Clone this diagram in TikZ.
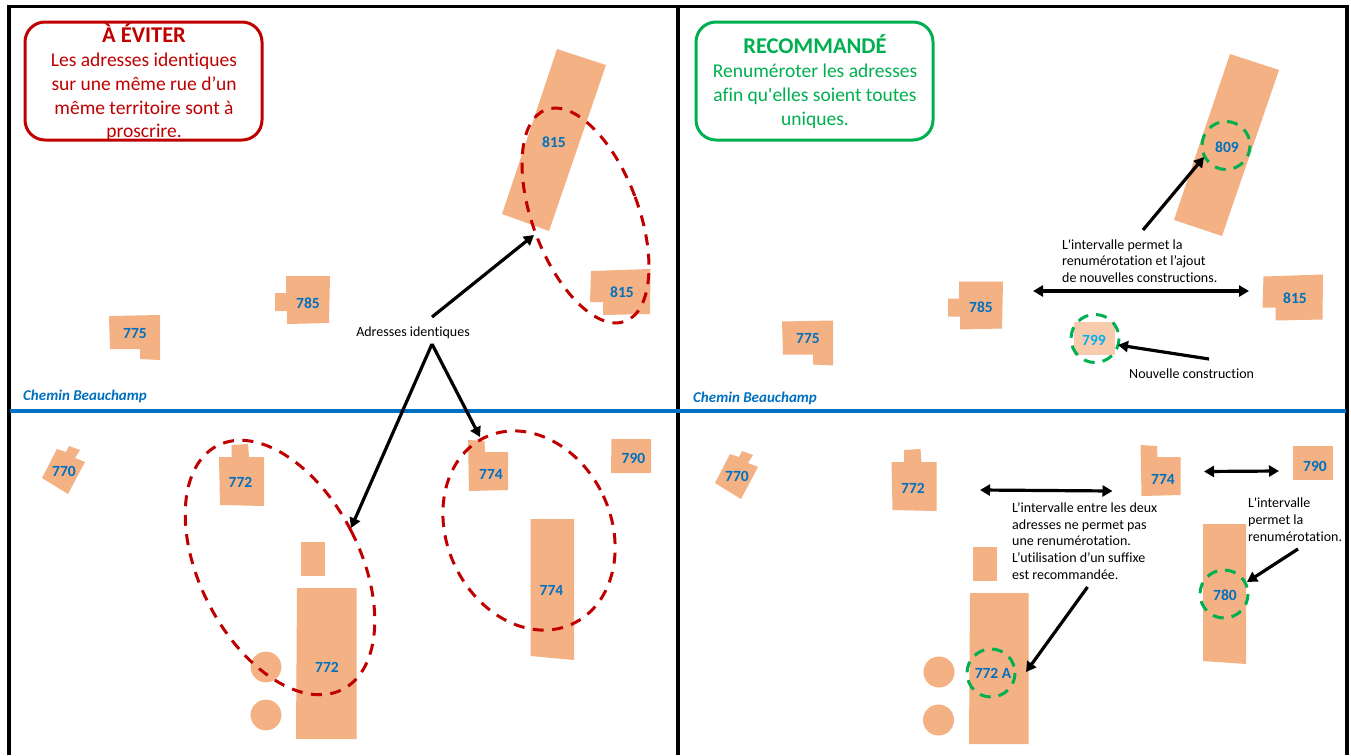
\documentclass[tikz,border=0pt]{standalone}
\usepackage{fontspec}
\newfontfamily\carl{Carlito}[Ligatures=NoCommon]
\usetikzlibrary{arrows.meta}
\definecolor{cred}{HTML}{C00000}
\definecolor{cgreen}{HTML}{00B050}
\definecolor{cblue}{HTML}{0070C0}
\definecolor{cbld}{HTML}{F4B183}
\definecolor{cnew}{HTML}{F8CBAD}
\definecolor{csky}{HTML}{00B0F0}
\tikzset{
  bld/.style={fill=cbld,draw=none},
  num/.style={font=\carl\fontsize{15.5}{16}\selectfont\bfseries,text=cblue,inner sep=0pt},
  road/.style={font=\carl\fontsize{15}{16}\selectfont\bfseries\itshape,text=cblue,inner sep=0pt,anchor=west},
  frameline/.style={draw=black,line width=3.5pt},
  redring/.style={draw=cred,line width=3pt,dash pattern=on 11pt off 8.5pt},
  greenring/.style={draw=cgreen,line width=3pt,dash pattern=on 11pt off 8pt},
  arr/.style={draw=black,line width=3.2pt,-{Triangle[length=10pt,width=11pt]}},
  darr/.style={draw=black,line width=3.2pt,{Triangle[length=10pt,width=11pt]}-{Triangle[length=10pt,width=11pt]}},
  note/.style={font=\carl\fontsize{14}{16.8}\selectfont,text=black,align=left,inner sep=0pt,anchor=west},
  panelbox/.style={rounded corners=20pt,line width=3pt,fill=white},
  boxtitle/.style={font=\carl\fontsize{22.5}{24}\selectfont\bfseries,inner sep=0pt},
  boxbody/.style={font=\carl\fontsize{19.5}{23.7}\selectfont,align=center,inner sep=0pt,anchor=north}
}
\newcommand{\bA}[1]{\fill[bld,#1] (109,316)--(160,315)--(160,360)--(140,359)--(140,349)--(110,349)--cycle;}
\newcommand{\bB}[1]{\fill[bld,#1] (286,276)--(330,276)--(329,323)--(287,324)--(287,311)--(275,311)--(275,293)--(286,293)--cycle;}
\newcommand{\bC}[1]{\fill[bld,#1] (591,271)--(650.5,269)--(650,314)--(603,315)--(603,302)--(590,302)--cycle;}
\newcommand{\bD}[1]{\fill[bld,#1] (57,449)--(66,452)--(69,446)--(80,450)--(75,458)--(85,462)--(68,494)--(42,478)--cycle;}
\newcommand{\bE}[1]{\fill[bld,#1] (231.5,445)--(248,444)--(249,457)--(264,457)--(264,506)--(220,505)--(219,457)--(231.5,457)--cycle;}
\newcommand{\bF}[1]{\fill[bld,#1] (468,440)--(484.5,441)--(485,452)--(508,452)--(508,490)--(469,491)--cycle;}
\begin{document}
\begin{tikzpicture}[x=1pt,y=-1pt]
\useasboundingbox (0,0) rectangle (1351,755);
\fill[white] (0,0) rectangle (1351,755);
% buildings, left panels
\bA{} \bB{} \bC{} \bD{} \bE{} \bF{}
\fill[bld] (557,49)--(606,65)--(549,231)--(502,214)--cycle;
\fill[bld] (611.5,439)--(651,439)--(651,473)--(611,473)--cycle;
\fill[bld] (300.5,542) rectangle (324.5,576);
\fill[bld] (297,588)--(356.5,588)--(356.5,739)--(296,739)--cycle;
\fill[bld] (266,667) circle (15.4);
\fill[bld] (266,715) circle (15.4);
\fill[bld] (530.5,519)--(574,519)--(574,660)--(530.5,656)--cycle;
% buildings, right panels
\bA{shift={(673,5.5)}} \bB{shift={(673,5.5)}} \bC{shift={(672.5,5.5)}}
\bD{shift={(673,5)}} \bE{shift={(672.5,5)}} \bF{shift={(672.5,5)}}
\fill[bld] (1230,54)--(1279,70)--(1222,236)--(1174,220)--cycle;
\fill[cnew] (1074,322)--(1115,322)--(1115,355)--(1074,355)--cycle;
\fill[bld] (1293,446)--(1333,446)--(1333,480)--(1293,480)--cycle;
\fill[bld] (972.5,547) rectangle (997,581);
\fill[bld] (970,593)--(1028.5,593)--(1028.5,744)--(969,744)--cycle;
\fill[bld] (939,672) circle (15.5);
\fill[bld] (938.5,720) circle (15.5);
\fill[bld] (1203,524)--(1246,524)--(1246,664)--(1203,661)--cycle;
% frame and road
\draw[frameline] (9,755)--(9,6.5)--(1347,6.5)--(1347,755);
\draw[frameline,line width=4pt] (678,6.5)--(678,755);
\draw[draw=cblue,line width=4pt] (10,411)--(1346,411);
% rings
\draw[redring,rotate around={20.5:(585.5,215.5)}] (585.5,215.5) ellipse (53 and 113);
\draw[redring,rotate around={27.2:(280,567.5)}] (280,567.5) ellipse (80 and 137);
\draw[redring,rotate around={25:(529,530.5)}] (529,530.5) ellipse (82 and 103);
\draw[greenring] (1226,145.5) circle (24);
\draw[greenring] (1095,338.5) circle (24);
\draw[greenring] (1224,594) circle (24);
\draw[greenring] (991,673) circle (24);
% boxes
\node[panelbox,draw=cred,minimum width=237pt,minimum height=118pt,inner sep=0pt] (boxred) at (143.5,81) {};
\node[panelbox,draw=cgreen,minimum width=237pt,minimum height=118pt,inner sep=0pt] (boxgreen) at (814.5,81) {};
\node[boxtitle,text=cred] (t1) at (144,33.5) {À ÉVITER};
\node[boxbody,text=cred] (b1) at (144,53) {Les adresses identiques\\sur une même rue d’un\\même territoire sont à\\proscrire.};
\node[boxtitle,text=cgreen] (t2) at (815,44.5) {RECOMMANDÉ};
\node[boxbody,text=cgreen] (b2) at (815,64) {Renuméroter les adresses\\afin qu'elles soient toutes\\uniques.};
% numbers
\node[num] (n1) at (554,142.5) {815};
\node[num] (n2) at (622,292.5) {815};
\node[num] (n3) at (308,303.5) {785};
\node[num] (n4) at (135,333.5) {775};
\node[num] (n5) at (64,471.5) {770};
\node[num] (n6) at (240.5,482.5) {772};
\node[num] (n7) at (327,667.5) {772};
\node[num] (n8) at (491,474.5) {774};
\node[num] (n9) at (551.5,590.5) {774};
\node[num] (n10) at (633.5,458.5) {790};
\node[num] (n11) at (1227,147.5) {809};
\node[num] (n12) at (981,307.5) {785};
\node[num] (n13) at (808,338.5) {775};
\node[num] (n14) at (1295,298.5) {815};
\node[num,text=csky] (n15) at (1094,340.5) {799};
\node[num] (n16) at (737,476.5) {770};
\node[num] (n17) at (913,488.5) {772};
\node[num] (n18) at (1163,479.5) {774};
\node[num] (n19) at (1315,466.5) {790};
\node[num] (n20) at (1225,595.5) {780};
\node[num] (n21) at (993,673.5) {772 A};
\node[road] (r1) at (23,396.5) {Chemin Beauchamp};
\node[road] (r2) at (693,398.5) {Chemin Beauchamp};
% notes
\node[note,anchor=center] (adr) at (413,332.5) {Adresses identiques};
\node[note] (note1) at (1062,261) {L'intervalle permet la\\renumérotation et l’ajout\\de nouvelles constructions.};
\node[note] (note2) at (1129,373.5) {Nouvelle construction};
\node[note] (note3) at (1012,541) {L’intervalle entre les deux\\adresses ne permet pas\\une renumérotation.\\L’utilisation d’un suffixe\\est recommandée.};
\node[note] (note4) at (1248,519.5) {L'intervalle\\permet la\\renumérotation.};
% connector ends
\coordinate (a1s) at (432,317); \coordinate (a1e) at (534,235);
\coordinate (ap) at (432,344);
\coordinate (a2e) at (351,528); \coordinate (a3e) at (480,437);
\coordinate (a4s) at (1143,230); \coordinate (a4e) at (1204,157);
\coordinate (d1s) at (1033,291); \coordinate (d1e) at (1249,291);
\coordinate (a5s) at (1209,359); \coordinate (a5e) at (1118,345);
\coordinate (d2s) at (980,490); \coordinate (d2e) at (1112.5,491);
\coordinate (d3s) at (1204,471.5); \coordinate (d3e) at (1279,471);
\coordinate (a6s) at (1087.5,587); \coordinate (a6e) at (1026,672);
\coordinate (a7s) at (1298,549); \coordinate (a7e) at (1247,582);
\draw[arr] (a1s)--(a1e);
\draw[arr] (ap)--(a2e);
\draw[arr] (ap)--(a3e);
\draw[arr] (a4s)--(a4e);
\draw[darr] (d1s)--(d1e);
\draw[arr] (a5s)--(a5e);
\draw[darr] (d2s)--(d2e);
\draw[darr] (d3s)--(d3e);
\draw[arr] (a6s)--(a6e);
\draw[arr] (a7s)--(a7e);
\end{tikzpicture}
\end{document}
